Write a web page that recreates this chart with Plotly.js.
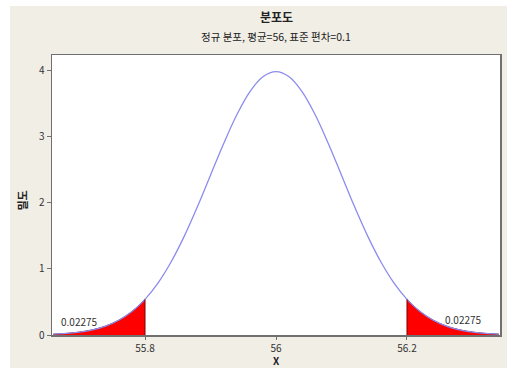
<!DOCTYPE html>
<html><head><meta charset="utf-8">
<script src="https://cdn.plot.ly/plotly-3.0.1.min.js"></script>
<style>html,body{margin:0;padding:0;background:#fff}#c{width:507px;height:372px}</style>
</head><body><div id="c"></div>
<script>
// Values (normal density, mean 56, sd 0.1)
var xVals = [55.66,55.68,55.70,55.72,55.74,55.76,55.78,55.80,55.82,55.84,55.86,55.88,55.90,55.92,55.94,55.96,55.98,56.00,
             56.02,56.04,56.06,56.08,56.10,56.12,56.14,56.16,56.18,56.20,56.22,56.24,56.26,56.28,56.30,56.32,56.34];
var density = [0.0123,0.0238,0.0443,0.0792,0.1358,0.2239,0.3547,0.5399,0.7895,1.1092,1.4973,1.9419,2.4197,2.8969,3.3322,3.6827,3.9104,3.9894,
               3.9104,3.6827,3.3322,2.8969,2.4197,1.9419,1.4973,1.1092,0.7895,0.5399,0.3547,0.2239,0.1358,0.0792,0.0443,0.0238,0.0123];
var lowerCut = 55.8, upperCut = 56.2;
var tailArea = "0.02275";
var xTicks = [55.8, 56, 56.2];
var xTickLabels = ["55.8", "56", "56.2"];
var yTicks = [0, 1, 2, 3, 4];
var titleText = "분포도";
var subtitleText = "정규 분포, 평균=56, 표준 편차=0.1";
var xLabel = "X", yLabel = "밀도";

var lx = [], ly = [], rx = [], ry = [];
for (var i = 0; i < xVals.length; i++) {
  if (xVals[i] <= lowerCut + 1e-9) { lx.push(xVals[i]); ly.push(density[i]); }
  if (xVals[i] >= upperCut - 1e-9) { rx.push(xVals[i]); ry.push(density[i]); }
}

var FONT = '"Noto Sans CJK KR", "DejaVu Sans", sans-serif';
var traces = [
  {x: lx, y: ly, type: 'scatter', mode: 'lines', fill: 'tozeroy', fillcolor: '#ff0000',
   line: {color: '#8a0000', width: 1, shape: 'spline'}, hoverinfo: 'skip'},
  {x: rx, y: ry, type: 'scatter', mode: 'lines', fill: 'tozeroy', fillcolor: '#ff0000',
   line: {color: '#8a0000', width: 1, shape: 'spline'}, hoverinfo: 'skip'},
  {x: xVals, y: density, type: 'scatter', mode: 'lines',
   line: {color: '#8c8cf0', width: 1.3, shape: 'spline'}, hoverinfo: 'skip'},
  {x: [lowerCut, lowerCut], y: [0, density[xVals.indexOf(lowerCut)]], type: 'scatter', mode: 'lines',
   line: {color: '#7a0000', width: 1}, hoverinfo: 'skip'},
  {x: [upperCut, upperCut], y: [0, density[xVals.indexOf(upperCut)]], type: 'scatter', mode: 'lines',
   line: {color: '#7a0000', width: 1}, hoverinfo: 'skip'}
];

var W = 448, H = 280; // plot area size
var layout = {
  width: 507, height: 372,
  margin: {l: 52, r: 7, t: 55, b: 37, pad: 0},
  paper_bgcolor: '#ffffff', plot_bgcolor: '#ffffff',
  showlegend: false,
  font: {family: FONT, size: 10, color: '#333333'},
  xaxis: {range: [55.658, 56.342], tickvals: xTicks, ticktext: xTickLabels,
          ticks: 'outside', ticklen: 3, tickcolor: '#707070', tickwidth: 1,
          showgrid: false, zeroline: false, showline: true, linecolor: '#707070', linewidth: 1.5, mirror: true,
          tickfont: {family: FONT, size: 10, color: '#333333'}},
  yaxis: {range: [0, 4.24], tickvals: yTicks,
          ticks: 'outside', ticklen: 4, tickcolor: '#707070', tickwidth: 1,
          showgrid: false, zeroline: false, showline: true, linecolor: '#707070', linewidth: 1.5, mirror: true,
          tickfont: {family: FONT, size: 10, color: '#333333'}},
  shapes: [
    {type: 'rect', xref: 'paper', yref: 'paper', layer: 'below',
     x0: -42 / W, x1: 1 + 7 / W, y0: -33 / H, y1: 1 + 49 / H,
     fillcolor: '#f1eee6', line: {width: 0}},
    {type: 'rect', xref: 'paper', yref: 'paper', layer: 'below',
     x0: 0, x1: 1, y0: 0, y1: 1, fillcolor: '#ffffff', line: {width: 0}}
  ],
  annotations: [
    {text: '<b>' + titleText + '</b>', xref: 'paper', yref: 'paper', x: 0.5, y: 1 + 39 / H,
     showarrow: false, font: {family: FONT, size: 12, color: '#222222'}, xanchor: 'center', yanchor: 'middle'},
    {text: subtitleText, xref: 'paper', yref: 'paper', x: 0.5, y: 1 + 19 / H,
     showarrow: false, font: {family: FONT, size: 10.5, color: '#222222'}, xanchor: 'center', yanchor: 'middle'},
    {text: '<b>' + xLabel + '</b>', xref: 'paper', yref: 'paper', x: 0.5, y: -25 / H,
     showarrow: false, font: {family: FONT, size: 10, color: '#222222'}, xanchor: 'center', yanchor: 'middle'},
    {text: '<b>' + yLabel + '</b>', xref: 'paper', yref: 'paper', x: -30 / W, y: 0.48, textangle: -90,
     showarrow: false, font: {family: FONT, size: 11, color: '#222222'}, xanchor: 'center', yanchor: 'middle'},
    {text: tailArea, xref: 'x', yref: 'y', x: 55.7005, y: 0.21,
     showarrow: false, font: {family: FONT, size: 10, color: '#333333'}, xanchor: 'center', yanchor: 'middle'},
    {text: tailArea, xref: 'x', yref: 'y', x: 56.286, y: 0.24,
     showarrow: false, font: {family: FONT, size: 10, color: '#333333'}, xanchor: 'center', yanchor: 'middle'}
  ]
};
Plotly.newPlot('c', traces, layout, {staticPlot: true, displayModeBar: false});
</script>
</body></html>
